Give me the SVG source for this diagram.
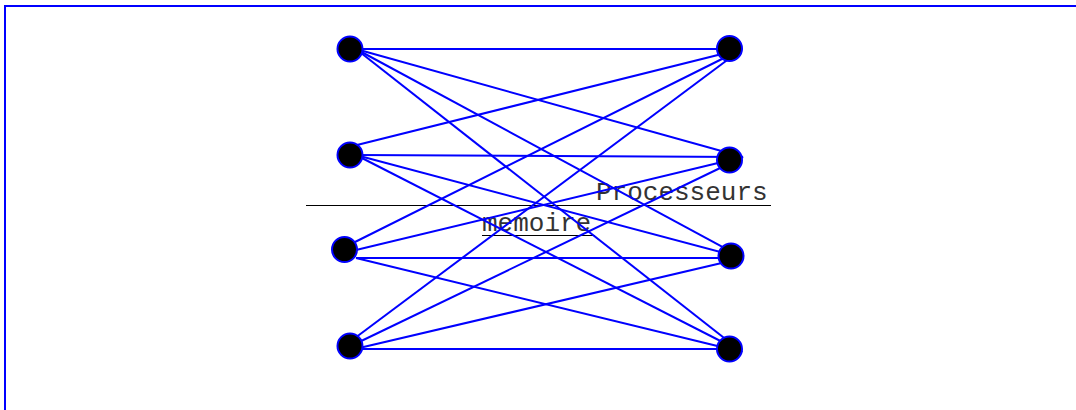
<svg xmlns="http://www.w3.org/2000/svg" width="1076" height="410" viewBox="0 0 1076 410">
<style>
.node{fill:#000;stroke:#0000ff;stroke-width:2}
.edge{stroke:#0000ff;stroke-width:2;fill:none}
.lbl{font-family:"Liberation Mono","Courier New",monospace;font-size:26px;fill:#333}
</style>
<rect x="5" y="6" width="1100" height="420" fill="#fff" stroke="#0000ff" stroke-width="2"/>
<g id="labels">
<line x1="306" y1="205.5" x2="771" y2="205.5" stroke="#000" stroke-width="1"/>
<text class="lbl" x="596" y="200">Processeurs</text>
<text class="lbl" x="482" y="231">memoire</text>
<line x1="482" y1="235.5" x2="595" y2="235.5" stroke="#000" stroke-width="1"/>
</g>
<g id="connectors">
<line class="edge" x1="356" y1="49" x2="742" y2="49"/>
<line class="edge" x1="356" y1="49" x2="743" y2="157"/>
<line class="edge" x1="356" y1="49" x2="743" y2="258"/>
<line class="edge" x1="356" y1="49" x2="742" y2="352"/>
<line class="edge" x1="357" y1="145" x2="742" y2="49"/>
<line class="edge" x1="356" y1="155" x2="743" y2="157"/>
<line class="edge" x1="356" y1="155" x2="743" y2="258"/>
<line class="edge" x1="356" y1="155" x2="742" y2="352"/>
<line class="edge" x1="355" y1="242" x2="742" y2="49"/>
<line class="edge" x1="356" y1="250" x2="743" y2="157"/>
<line class="edge" x1="356" y1="258" x2="743" y2="258"/>
<line class="edge" x1="356" y1="258" x2="742" y2="352"/>
<line class="edge" x1="355" y1="338" x2="742" y2="49"/>
<line class="edge" x1="355" y1="344" x2="743" y2="157"/>
<line class="edge" x1="355" y1="349" x2="743" y2="258"/>
<line class="edge" x1="350" y1="349" x2="742" y2="349"/>
</g>
<g id="L1"><circle class="node" cx="350" cy="49" r="12.5"/></g>
<g id="L2"><circle class="node" cx="350" cy="155" r="12.5"/></g>
<g id="L3"><circle class="node" cx="344.5" cy="249.5" r="12.5"/></g>
<g id="L4"><circle class="node" cx="350" cy="346" r="12.5"/></g>
<g id="R1"><circle class="node" cx="729.5" cy="48.5" r="12.5"/></g>
<g id="R2"><circle class="node" cx="729.5" cy="160" r="12.5"/></g>
<g id="R3"><circle class="node" cx="731" cy="256" r="12.5"/></g>
<g id="R4"><circle class="node" cx="729.5" cy="349" r="12.5"/></g>
</svg>
